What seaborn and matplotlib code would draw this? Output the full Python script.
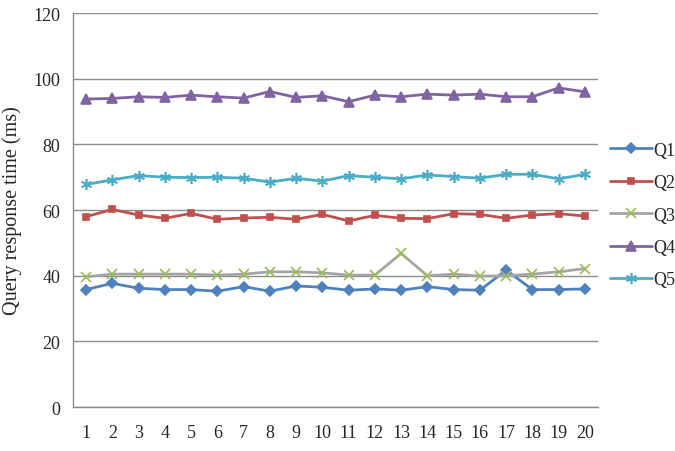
import matplotlib
matplotlib.use("Agg")
import matplotlib.pyplot as plt
import seaborn as sns
import pandas as pd

runs = list(range(1, 21))
q1 = [35.8, 37.7, 36.2, 35.8, 35.8, 35.3, 36.7, 35.3, 36.9, 36.5, 35.6, 36.0, 35.6, 36.7, 35.8, 35.6, 41.7, 35.8, 35.8, 36.0]
q2 = [58.0, 60.2, 58.5, 57.5, 59.0, 57.2, 57.6, 57.8, 57.2, 58.7, 56.7, 58.4, 57.5, 57.4, 58.9, 58.7, 57.5, 58.5, 58.9, 58.2]
q3 = [39.7, 40.5, 40.5, 40.5, 40.5, 40.2, 40.5, 41.2, 41.2, 40.9, 40.2, 40.2, 46.8, 40.0, 40.5, 39.9, 40.0, 40.5, 41.2, 42.2]
q4 = [93.8, 94.0, 94.5, 94.3, 95.0, 94.5, 94.1, 96.1, 94.3, 94.8, 93.0, 95.0, 94.5, 95.3, 95.0, 95.3, 94.5, 94.5, 97.2, 96.0]
q5 = [67.8, 69.2, 70.5, 70.0, 69.9, 70.0, 69.7, 68.5, 69.7, 68.8, 70.5, 70.0, 69.5, 70.7, 70.2, 69.7, 70.9, 70.9, 69.5, 70.9]

series = {"Q1": q1, "Q2": q2, "Q3": q3, "Q4": q4, "Q5": q5}
line_colors = {"Q1": "#4F81BD", "Q2": "#C0504D", "Q3": "#A5A5A5", "Q4": "#8064A2", "Q5": "#4BACC6"}
marker_colors = {"Q1": "#4F81BD", "Q2": "#C0504D", "Q3": "#9BBB59", "Q4": "#8064A2", "Q5": "#4BACC6"}
markers = {"Q1": "D", "Q2": "s", "Q3": "x", "Q4": "^", "Q5": (6, 2, 0)}
sizes = {"Q1": 5, "Q2": 5, "Q3": 7, "Q4": 6.5, "Q5": 8}

sns.set_style("white")
plt.rcParams["font.family"] = "serif"
plt.rcParams["font.serif"] = ["Liberation Serif", "Times New Roman", "DejaVu Serif"]

fig = plt.figure(figsize=(6.75, 4.52), dpi=100)
ax = fig.add_axes([0.108, 0.097, 0.778, 0.872])

for name, vals in series.items():
    df = pd.DataFrame({"run": runs, "time": vals})
    sns.lineplot(data=df, x="run", y="time", ax=ax, color=line_colors[name],
                 linewidth=2.0, marker=markers[name], markersize=sizes[name],
                 markerfacecolor=marker_colors[name], markeredgecolor=marker_colors[name],
                 markeredgewidth=1.2, label=name, legend=False)

ax.set_xlim(0.5, 20.5)
ax.set_ylim(0, 120)
ax.set_yticks(range(0, 121, 20))
ax.set_xticks(runs)
ax.tick_params(axis="y", labelsize=13, length=0, pad=9)
ax.tick_params(axis="x", labelsize=13, length=0, pad=12)
ax.yaxis.grid(True, color="#8c8c8c", linewidth=1)
ax.set_xlabel("")
ax.set_ylabel("Query response time (ms)", fontsize=14.5)
ax.yaxis.set_label_coords(-0.097, 0.5)
for s in ["top", "right"]:
    ax.spines[s].set_visible(False)
for s in ["left", "bottom"]:
    ax.spines[s].set_color("#8c8c8c")
    ax.spines[s].set_linewidth(1)

handles, labels = ax.get_legend_handles_labels()
fig.legend(handles, labels, loc="upper left", bbox_to_anchor=(0.88, 0.72),
           frameon=False, fontsize=13, handlelength=2.3, handletextpad=0.1,
           labelspacing=0.85)

fig.savefig("out.png", dpi=100)
